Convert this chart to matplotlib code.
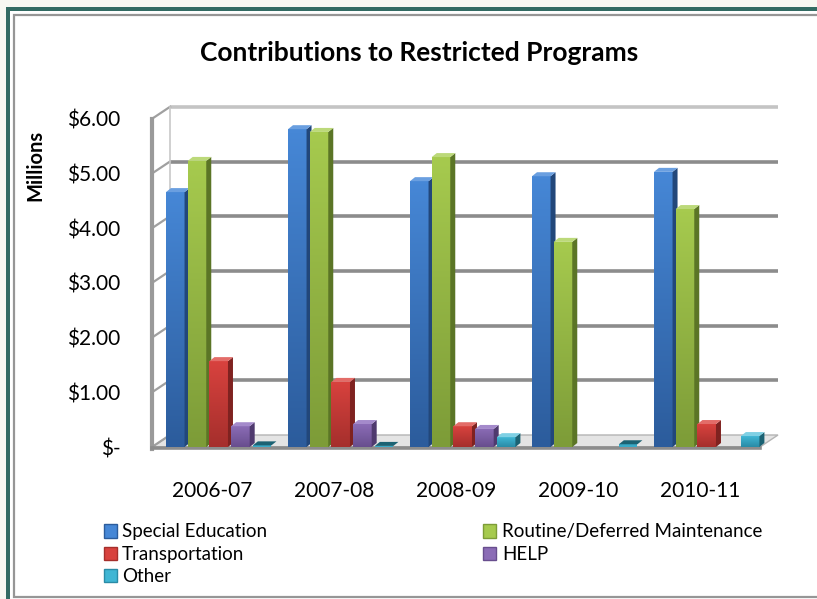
"""Contributions to Restricted Programs - 3D-look clustered bar chart."""

import numpy as np
import matplotlib
matplotlib.use("Agg")
import matplotlib.pyplot as plt
from matplotlib.patches import Polygon, Rectangle, Patch
from matplotlib.colors import LinearSegmentedColormap

plt.rcParams["font.family"] = ["Lato", "DejaVu Sans"]

# ---- data (millions of dollars) ----
years = ["2006-07", "2007-08", "2008-09", "2009-10", "2010-11"]
series_names = ["Special Education", "Routine/Deferred Maintenance",
                "Transportation", "HELP", "Other"]
special_ed = [4.66, 5.81, 4.86, 4.95, 5.03]
maintenance = [5.23, 5.76, 5.30, 3.75, 4.35]
transportation = [1.57, 1.19, 0.38, 0.0, 0.42]
help_prog = [0.38, 0.42, 0.33, 0.0, 0.0]
other = [0.03, 0.02, 0.18, 0.05, 0.20]
ytick_vals = [0, 1, 2, 3, 4, 5, 6]
ytick_labels = ["$-", "$1.00", "$2.00", "$3.00", "$4.00", "$5.00", "$6.00"]

# face top, face bottom, side, top cap
palette = [
    ("#4687d6", "#2c5c9c", "#22477a", "#6a9fe0"),
    ("#a6ca4e", "#7d9c38", "#5b7526", "#bcd97a"),
    ("#d8423e", "#a52f2c", "#7f2220", "#e36c68"),
    ("#8b6cb6", "#684e8e", "#4f3a6e", "#a48acb"),
    ("#3fb6d4", "#2a8ba6", "#1c6273", "#7fd0e4"),
]
all_series = [special_ed, maintenance, transportation, help_prog, other]

W, H = 817, 599
fig = plt.figure(figsize=(W / 100, H / 100), dpi=100)
fig.patch.set_facecolor("#f8f8f2")

# frame / border in pixel space
bg = fig.add_axes([0, 0, 1, 1])
bg.set_xlim(0, W)
bg.set_ylim(H, 0)
bg.axis("off")
bg.add_patch(Rectangle((6, 7), W, H, facecolor="white", edgecolor="none"))
bg.add_patch(Rectangle((6, 7), W, 4, facecolor="#336b63", edgecolor="none"))
bg.add_patch(Rectangle((6, 7), 4, H, facecolor="#336b63", edgecolor="none"))
bg.add_patch(Rectangle((14.5, 14.5), W, 582, facecolor="white",
                       edgecolor="#969696", linewidth=1.6))

# main plotting axes: 0 value at y=447px, 54.7 px per $1M; group spacing 122px
px_per_val = 54.7
px_per_x = 122.0
x0_px, y0_px = 212.0, 447.0
ax_left, ax_right, ax_top, ax_bot = 140, 790, 100, 455
ax = fig.add_axes([ax_left / W, 1 - ax_bot / H,
                   (ax_right - ax_left) / W, (ax_bot - ax_top) / H])
ax.set_xlim((ax_left - x0_px) / px_per_x, (ax_right - x0_px) / px_per_x)
ax.set_ylim(-(ax_bot - y0_px) / px_per_val, (y0_px - ax_top) / px_per_val)
ax.patch.set_alpha(0)
for s in ax.spines.values():
    s.set_visible(False)

# depth offsets of the 3D box
ddx = 18 / px_per_x
ddy = 12 / px_per_val
wall_x = (152 - x0_px) / px_per_x
right_x = (760 - x0_px) / px_per_x
grid_c = "#8c8c8c"

# floor
ax.add_patch(Polygon([(wall_x, 0), (right_x, 0), (right_x + ddx, ddy),
                      (wall_x + ddx, ddy)], closed=True,
                     facecolor="#e4e4e4", edgecolor="#b4b4b4", lw=1, zorder=1))
# back-wall gridlines and left-wall slants
for v in ytick_vals:
    c = "#c4c4c4" if v == ytick_vals[-1] else grid_c
    if v > 0:
        ax.plot([wall_x + ddx, right_x + ddx], [v + ddy, v + ddy],
                color=c, lw=2.6, solid_capstyle="butt", zorder=1)
    ax.plot([wall_x, wall_x + ddx], [v, v + ddy], color="#a0a0a0", lw=1.6, zorder=1)
ax.plot([wall_x, wall_x], [-0.03, ytick_vals[-1]], color="#9a9a9a", lw=3, zorder=1)
ax.plot([wall_x + ddx, wall_x + ddx], [ddy, ytick_vals[-1] + ddy],
        color="#c8c8c8", lw=1.2, zorder=1)
ax.plot([wall_x, right_x], [-0.02, -0.02], color="#8c8c8c", lw=2.6, zorder=1)

# bars
step = 0.178
face_w = 0.152
side_w = 5 / px_per_x
cap_h = 4 / px_per_val
start = -46 / px_per_x
x_idx = np.arange(len(years))

for si, vals in enumerate(all_series):
    ctop, cbot, cside, ccap = palette[si]
    cmap = LinearSegmentedColormap.from_list("g%d" % si, [cbot, ctop])
    for gi, v in zip(x_idx, vals):
        if v <= 0:
            continue
        left = gi + start + si * step
        z = 5 + si
        if v > 0.06:
            rect = Rectangle((left, 0), face_w, v, facecolor="none",
                             edgecolor="none", zorder=z)
            ax.add_patch(rect)
            grad = np.linspace(0, 1, 64).reshape(-1, 1)
            im = ax.imshow(grad, cmap=cmap, origin="lower", aspect="auto",
                           extent=(left, left + face_w, 0, v), zorder=z,
                           interpolation="bilinear")
            im.set_clip_path(rect)
            ax.add_patch(Polygon([(left + face_w, 0), (left + face_w + side_w, cap_h),
                                  (left + face_w + side_w, v + cap_h),
                                  (left + face_w, v)], closed=True,
                                 facecolor=cside, edgecolor="none", zorder=z))
            cap_c = ccap
        else:
            ax.add_patch(Rectangle((left, 0), face_w, max(v, 0.02),
                                   facecolor=cmap(0.7), edgecolor="none", zorder=z))
            cap_c = cside
        ax.add_patch(Polygon([(left, v), (left + side_w, v + cap_h),
                              (left + face_w + side_w, v + cap_h),
                              (left + face_w, v)], closed=True,
                             facecolor=cap_c, edgecolor="none", zorder=z))

ax.set_yticks(ytick_vals)
ax.set_yticklabels(ytick_labels)
ax.set_xticks(x_idx)
ax.set_xticklabels(years)
ax.tick_params(axis="y", length=0, pad=14, labelsize=15)
ax.tick_params(axis="x", length=0, pad=19, labelsize=15)

fig.text(419 / W, 1 - 53 / H, "Contributions to Restricted Programs",
         ha="center", va="center", fontsize=19, fontweight="bold")
fig.text(35 / W, 1 - 165 / H, "Millions", rotation=90, ha="center",
         va="center", fontsize=14.5, fontweight="bold")

# legend (column-major fill, so reorder to read row-wise)
handles = [Patch(facecolor=palette[i][0], edgecolor=palette[i][1]) for i in range(5)]
order = [0, 2, 4, 1, 3]
fig.legend([handles[i] for i in order], [series_names[i] for i in order],
           ncol=2, loc="upper left", bbox_to_anchor=(96 / W, 1 - 516 / H),
           frameon=False, fontsize=13.5, handlelength=0.7, handleheight=0.7,
           handletextpad=0.3, labelspacing=0.28, columnspacing=11.5,
           borderaxespad=0)

fig.savefig("out.png", dpi=100, facecolor=fig.get_facecolor())
